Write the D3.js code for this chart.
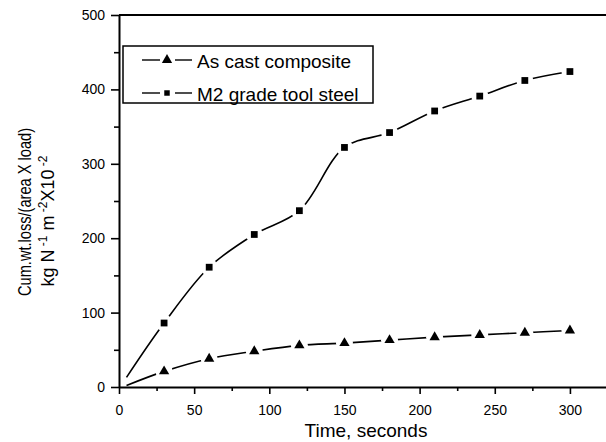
<!DOCTYPE html>
<html>
<head>
<meta charset="utf-8">
<script src="https://cdn.jsdelivr.net/npm/d3@7"></script>
<style>
  body { margin: 0; background: #fff; }
  svg { display: block; font-family: "Liberation Sans", Arial, sans-serif; }
</style>
</head>
<body>
<script>
var time = [5, 30, 60, 90, 120, 150, 180, 210, 240, 270, 300];
var composite = [2, 21, 38, 48, 56, 59, 63, 67, 70, 73, 76];
var toolSteel = [13, 86, 161, 205, 237, 322, 342, 371, 391, 412, 424];
var seriesNames = ["As cast composite", "M2 grade tool steel"];
var xMajorTicks = [0, 50, 100, 150, 200, 250, 300];
var xMinorTicks = [25, 75, 125, 175, 225, 275];
var yMajorTicks = [0, 100, 200, 300, 400, 500];
var yMinorTicks = [50, 150, 250, 350, 450];

var width = 606,
    height = 442,
    plotLeft = 119,
    plotRight = 606,
    plotTop = 15,
    plotBottom = 387;

var svg = d3.select("body").append("svg")
    .attr("width", width)
    .attr("height", height);

var x = d3.scaleLinear().domain([0, 324]).range([plotLeft, plotRight]);
var y = d3.scaleLinear().domain([0, 500]).range([plotBottom, plotTop]);

// axes
svg.append("g")
    .attr("transform", "translate(0," + plotBottom + ")")
    .call(d3.axisBottom(x).tickValues(xMajorTicks).tickSize(7).tickPadding(11).tickSizeOuter(0));
svg.append("g")
    .attr("transform", "translate(0," + plotBottom + ")")
    .call(d3.axisBottom(x).tickValues(xMinorTicks).tickSize(4).tickFormat(""))
    .select(".domain").remove();

svg.append("g")
    .attr("transform", "translate(" + plotLeft + ",0)")
    .call(d3.axisLeft(y).tickValues(yMajorTicks).tickSize(8).tickPadding(6).tickSizeOuter(0));
svg.append("g")
    .attr("transform", "translate(" + plotLeft + ",0)")
    .call(d3.axisLeft(y).tickValues(yMinorTicks).tickSize(5).tickFormat(""))
    .select(".domain").remove();

svg.selectAll(".domain").attr("stroke-width", 2);
svg.selectAll(".tick line").attr("stroke-width", 1.6);
svg.selectAll(".tick text")
    .attr("font-family", "Liberation Sans, Arial, sans-serif")
    .attr("font-size", 14)
    .attr("fill", "#000");

// top frame line
svg.append("line")
    .attr("x1", plotLeft).attr("x2", plotRight)
    .attr("y1", y(500)).attr("y2", y(500))
    .attr("stroke", "#000").attr("stroke-width", 2);

// lines
var line = d3.line()
    .x(function (d) { return x(d[0]); })
    .y(function (d) { return y(d[1]); })
    .curve(d3.curveCatmullRom.alpha(0.5));

var series = [
    { name: seriesNames[0], values: composite, shape: d3.symbolTriangle, size: 46 },
    { name: seriesNames[1], values: toolSteel, shape: d3.symbolSquare, size: 46 }
];

series.forEach(function (s) {
    var pts = time.map(function (t, i) { return [t, s.values[i]]; });
    svg.append("path")
        .attr("d", line(pts))
        .attr("fill", "none")
        .attr("stroke", "#000")
        .attr("stroke-width", 1.6);
    var marked = pts.slice(1);
    svg.selectAll(null)
        .data(marked)
        .enter().append("circle")
        .attr("cx", function (d) { return x(d[0]); })
        .attr("cy", function (d) { return y(d[1]); })
        .attr("r", 8.5)
        .attr("fill", "#fff");
    svg.selectAll(null)
        .data(marked)
        .enter().append("path")
        .attr("transform", function (d) { return "translate(" + x(d[0]) + "," + y(d[1]) + ")"; })
        .attr("d", d3.symbol().type(s.shape).size(s.size))
        .attr("fill", "#000");
});

// legend
var legend = svg.append("g");
legend.append("rect")
    .attr("x", 123).attr("y", 46)
    .attr("width", 250).attr("height", 57)
    .attr("fill", "#fff")
    .attr("stroke", "#000")
    .attr("stroke-width", 1.5);

series.forEach(function (s, i) {
    var ly = 60 + i * 33;
    legend.append("line")
        .attr("x1", 142).attr("x2", 160).attr("y1", ly).attr("y2", ly)
        .attr("stroke", "#000").attr("stroke-width", 1.4);
    legend.append("line")
        .attr("x1", 175).attr("x2", 192).attr("y1", ly).attr("y2", ly)
        .attr("stroke", "#000").attr("stroke-width", 1.4);
    legend.append("path")
        .attr("transform", "translate(167," + ly + ")")
        .attr("d", d3.symbol().type(s.shape).size(i === 0 ? 46 : 30))
        .attr("fill", "#000");
    legend.append("text")
        .attr("x", 197).attr("y", ly + 8)
        .attr("font-size", 19)
        .text(s.name);
});

// axis titles
svg.append("text")
    .attr("x", 366).attr("y", 437)
    .attr("text-anchor", "middle")
    .attr("font-size", 19)
    .text("Time, seconds");

svg.append("text")
    .attr("transform", "translate(31,212) rotate(-90)")
    .attr("text-anchor", "middle")
    .attr("font-size", 18)
    .attr("textLength", 168)
    .attr("lengthAdjust", "spacingAndGlyphs")
    .text("Cum.wt.loss/(area X load)");

var yl2 = svg.append("text")
    .attr("transform", "translate(54,221) rotate(-90)")
    .attr("text-anchor", "middle")
    .attr("font-size", 18);
yl2.append("tspan").text("kg N");
yl2.append("tspan").attr("dy", -7).attr("font-size", 12).text(" -1");
yl2.append("tspan").attr("dy", 7).text("  m");
yl2.append("tspan").attr("dy", -7).attr("font-size", 12).text(" -2");
yl2.append("tspan").attr("dy", 7).text("X10");
yl2.append("tspan").attr("dy", -7).attr("font-size", 12).text(" -2");
</script>
</body>
</html>
